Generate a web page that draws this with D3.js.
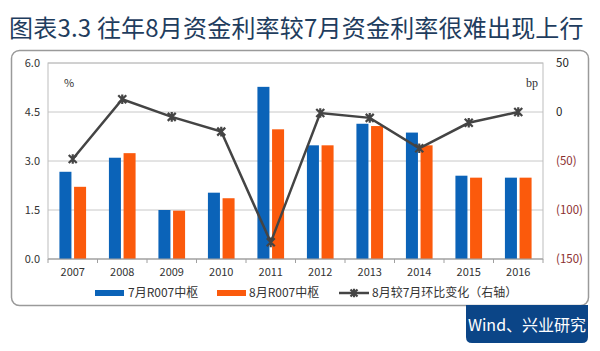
<!DOCTYPE html>
<html>
<head>
<meta charset="utf-8">
<script src="https://cdn.jsdelivr.net/npm/d3@7"></script>
<style>
  body { margin: 0; background: #fff; }
  text { font-family: "Noto Sans CJK SC", "Noto Sans", sans-serif; }
</style>
</head>
<body>
<div id="chart"></div>
<script>
const years = ['2007', '2008', '2009', '2010', '2011', '2012', '2013', '2014', '2015', '2016'];
const julR007 = [2.67, 3.10, 1.50, 2.03, 5.27, 3.48, 4.14, 3.87, 2.55, 2.49];
const augR007 = [2.21, 3.24, 1.48, 1.86, 3.97, 3.48, 4.07, 3.48, 2.49, 2.49];
const changeBp = [-48, 13, -5, -20, -133, -1, -6, -37, -11, 0];
const leftTicks = [0, 1.5, 3.0, 4.5, 6.0];
const rightTicks = [-150, -100, -50, 0, 50];
const seriesNames = ['7月R007中枢', '8月R007中枢', '8月较7月环比变化（右轴）'];

const width = 600, height = 351;
const plot = { left: 48, right: 543, top: 63, bottom: 259 };
const blue = '#0b63b8', orange = '#fb5a0c', lineColor = '#444';

const svg = d3.select('#chart').append('svg')
  .attr('width', width)
  .attr('height', height);

// title
svg.append('text')
  .attr('x', 9)
  .attr('y', 37)
  .style('font-size', '24px')
  .style('font-weight', '400')
  .style('letter-spacing', '0.2px')
  .style('fill', '#1f3d5e')
  .text('图表3.3 往年8月资金利率较7月资金利率很难出现上行');

// frame
svg.append('rect')
  .attr('x', 11.5).attr('y', 50.5)
  .attr('width', 577).attr('height', 255)
  .attr('rx', 8)
  .attr('fill', 'none')
  .attr('stroke', '#9a9a9a')
  .attr('stroke-width', 1.5);

const x = d3.scaleBand().domain(years).range([plot.left, plot.right]);
const xs = d3.scaleBand().domain(['jul', 'aug']).range([0, x.bandwidth()])
  .paddingInner(0.18).paddingOuter(0.78);
const y = d3.scaleLinear().domain([0, 6]).range([plot.bottom, plot.top]);
const y2 = d3.scaleLinear().domain([-150, 50]).range([plot.bottom, plot.top]);

// grid
svg.append('g')
  .selectAll('line')
  .data(leftTicks)
  .enter().append('line')
  .attr('x1', plot.left).attr('x2', plot.right)
  .attr('y1', d => y(d)).attr('y2', d => y(d))
  .attr('stroke', '#c8c8c8')
  .attr('stroke-width', 1);

svg.append('rect')
  .attr('x', plot.left).attr('y', plot.top)
  .attr('width', plot.right - plot.left).attr('height', plot.bottom - plot.top)
  .attr('fill', 'none')
  .attr('stroke', '#bdbdbd');

// bars
const groups = svg.append('g')
  .selectAll('g')
  .data(years)
  .enter().append('g')
  .attr('transform', d => `translate(${x(d)},0)`);

groups.selectAll('rect')
  .data((d, i) => [{ key: 'jul', value: julR007[i] }, { key: 'aug', value: augR007[i] }])
  .enter().append('rect')
  .attr('x', d => xs(d.key))
  .attr('y', d => y(d.value))
  .attr('width', xs.bandwidth())
  .attr('height', d => y(0) - y(d.value))
  .attr('fill', d => d.key === 'jul' ? blue : orange);

// x axis
const xAxis = svg.append('g')
  .attr('transform', `translate(0,${plot.bottom})`);
xAxis.append('line')
  .attr('x1', plot.left).attr('x2', plot.right)
  .attr('stroke', '#a0a0a0');
xAxis.selectAll('.tk')
  .data(years.concat(['end']))
  .enter().append('line')
  .attr('x1', d => d === 'end' ? plot.right : x(d))
  .attr('x2', d => d === 'end' ? plot.right : x(d))
  .attr('y1', 0).attr('y2', 4)
  .attr('stroke', '#a0a0a0');
xAxis.selectAll('text')
  .data(years)
  .enter().append('text')
  .attr('x', d => x(d) + x.bandwidth() / 2)
  .attr('y', 17)
  .attr('text-anchor', 'middle')
  .style('font-size', '11px')
  .style('fill', '#333')
  .text(d => d);

// left axis labels
svg.append('g')
  .selectAll('text')
  .data(leftTicks)
  .enter().append('text')
  .attr('x', 40)
  .attr('y', d => y(d))
  .attr('dy', '0.35em')
  .attr('text-anchor', 'end')
  .style('font-size', '11px')
  .style('fill', '#333')
  .text(d => d3.format('.1f')(d));

// right axis labels
svg.append('g')
  .selectAll('text')
  .data(rightTicks)
  .enter().append('text')
  .attr('x', 556)
  .attr('y', d => y2(d))
  .attr('dy', '0.35em')
  .style('font-size', '11.5px')
  .style('fill', d => d < 0 ? '#8b2e2e' : '#222')
  .text(d => d < 0 ? `(${-d})` : d);

svg.append('text')
  .attr('x', 64).attr('y', 87)
  .style('font-size', '11px').style('fill', '#333')
  .text('%');
svg.append('text')
  .attr('x', 526).attr('y', 87)
  .style('font-family', '"Liberation Serif", serif')
  .style('font-size', '12px').style('fill', '#333')
  .text('bp');

// line
const cx = d => x(d) + x.bandwidth() / 2;
const line = d3.line()
  .x((d, i) => cx(years[i]))
  .y(d => y2(d));
svg.append('path')
  .datum(changeBp)
  .attr('d', line)
  .attr('fill', 'none')
  .attr('stroke', lineColor)
  .attr('stroke-width', 2.5);

const star = (sel, px, py, r) => {
  sel.append('path')
    .attr('d', `M${px - r},${py - r}L${px + r},${py + r}M${px - r},${py + r}L${px + r},${py - r}M${px},${py - r * 1.2}L${px},${py + r * 1.2}`)
    .attr('stroke', lineColor)
    .attr('stroke-width', 2.2)
    .attr('fill', 'none');
};
const markers = svg.append('g');
changeBp.forEach((d, i) => star(markers, cx(years[i]), y2(d), 4));

// legend
const legend = svg.append('g').attr('transform', 'translate(0,293)');
legend.append('rect').attr('x', 95).attr('y', -3).attr('width', 29).attr('height', 6).attr('fill', blue);
legend.append('text').attr('x', 128).attr('dy', '0.35em')
  .style('font-size', '12px').style('fill', '#333').text(seriesNames[0]);
legend.append('rect').attr('x', 217).attr('y', -3).attr('width', 29).attr('height', 6).attr('fill', orange);
legend.append('text').attr('x', 249).attr('dy', '0.35em')
  .style('font-size', '12px').style('fill', '#333').text(seriesNames[1]);
legend.append('line').attr('x1', 339).attr('x2', 369).attr('stroke', lineColor).attr('stroke-width', 2.5);
star(legend, 354, 0, 3.5);
legend.append('text').attr('x', 372).attr('dy', '0.35em')
  .style('font-size', '12px').style('fill', '#333').text(seriesNames[2]);

// source tag
svg.append('path')
  .attr('d', 'M466,305H588V337Q588,343 582,343H472Q466,343 466,337Z')
  .attr('fill', '#0b4587');
svg.append('text')
  .attr('x', 527).attr('y', 325)
  .attr('dy', '0.35em')
  .attr('text-anchor', 'middle')
  .style('font-size', '16px')
  .style('fill', '#fff')
  .text('Wind、兴业研究');
</script>
</body>
</html>
